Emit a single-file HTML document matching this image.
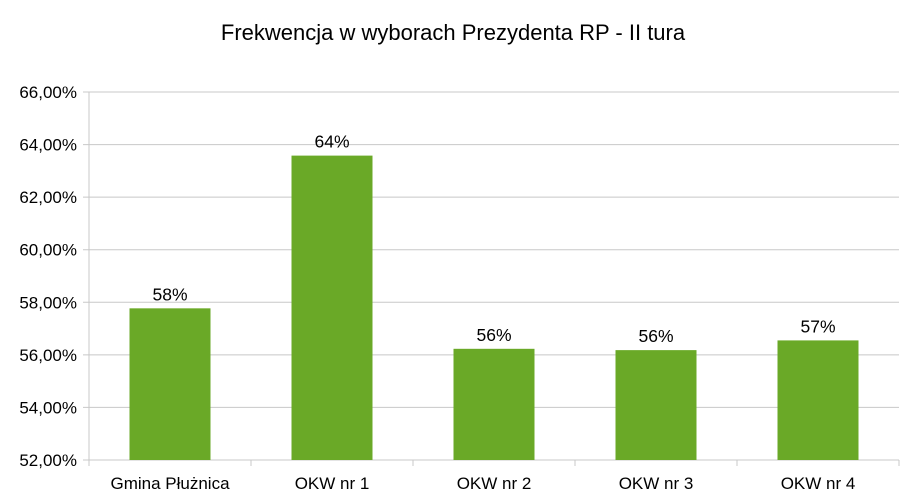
<!DOCTYPE html>
<html><head><meta charset="utf-8"><style>
body{margin:0;background:#fff;width:914px;height:499px;overflow:hidden}
text{font-family:"Liberation Sans",sans-serif;fill:#000}
</style></head><body>
<svg id="chart" width="914" height="499">
<text x="453" y="40" text-anchor="middle" font-size="22">Frekwencja w wyborach Prezydenta RP - II tura</text>
<g id="grid"></g><g id="bars"></g><g id="axes"></g>
</svg>
<script>
const categories=["Gmina Płużnica","OKW nr 1","OKW nr 2","OKW nr 3","OKW nr 4"];
const values=[57.77,63.58,56.23,56.18,56.55];
const valueLabels=["58%","64%","56%","56%","57%"];
const yTicks=[52,54,56,58,60,62,64,66];
const yTickLabels=["52,00%","54,00%","56,00%","58,00%","60,00%","62,00%","64,00%","66,00%"];
const NS="http://www.w3.org/2000/svg";
const X0=89,X1=899,Y0=460,Y1=92,YMIN=52,YMAX=66;
const y=v=>Y0-(v-YMIN)/(YMAX-YMIN)*(Y0-Y1);
const bw=(X1-X0)/categories.length;
const x=i=>X0+i*bw;
function mk(t,a,p){const e=document.createElementNS(NS,t);for(const k in a)e.setAttribute(k,a[k]);p.appendChild(e);return e;}
const g=document.getElementById('grid'),b=document.getElementById('bars'),ax=document.getElementById('axes');
yTicks.forEach((v,i)=>{
 const l=mk('line',{x1:X0-6,x2:X1,y1:y(v),y2:y(v),stroke:'#c8c8c8','stroke-width':1},g);
 
 
 const t=mk('text',{x:X0-12,y:y(v)+6,'text-anchor':'end','font-size':17},ax);
 t.textContent=yTickLabels[i];
 
 
});
const va=mk('line',{x1:X0,x2:X0,y1:Y1,y2:Y0+6,stroke:'#c8c8c8'},ax);


categories.forEach((c,i)=>{
 const r=mk('rect',{x:x(i)+bw/4,y:y(values[i]),width:bw/2,height:Y0-y(values[i]),fill:'#6aa927'},b);
 
 
 const vl=mk('text',{x:x(i)+bw/2,y:y(values[i])-8,'text-anchor':'middle','font-size':17.5},b);
 vl.textContent=valueLabels[i];
 
 
 const cl=mk('text',{x:x(i)+bw/2,y:489,'text-anchor':'middle','font-size':17},ax);
 cl.textContent=c;
 
 
 const tk=mk('line',{x1:x(i+1),x2:x(i+1),y1:Y0,y2:Y0+6,stroke:'#c8c8c8'},ax);
 
 
});
</script>
</body></html>
